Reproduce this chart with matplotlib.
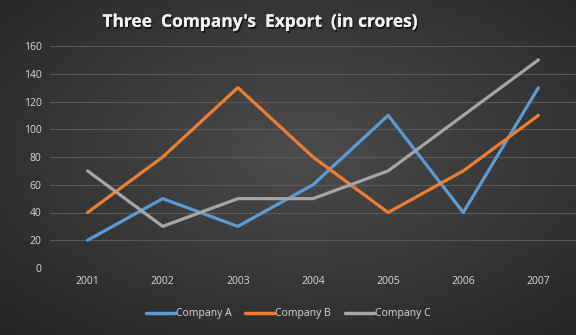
import numpy as np
import matplotlib
matplotlib.use("Agg")
import matplotlib.pyplot as plt
import matplotlib.patheffects as pe

years = ["2001", "2002", "2003", "2004", "2005", "2006", "2007"]
company_a = [20, 50, 30, 60, 110, 40, 130]
company_b = [40, 80, 130, 80, 40, 70, 110]
company_c = [70, 30, 50, 50, 70, 110, 150]
series_names = ["Company A", "Company B", "Company C"]
colors = ["#5B9BD5", "#ED7D31", "#A5A5A5"]
y_ticks = [0, 20, 40, 60, 80, 100, 120, 140, 160]

plt.rcParams['font.family'] = ['Open Sans', 'DejaVu Sans']

fig = plt.figure(figsize=(5.76, 3.35), dpi=100)

# radial gradient background
bg = fig.add_axes([0, 0, 1, 1], zorder=-10)
yy, xx = np.mgrid[0:335, 0:576]
cx, cy = 300, 150
r = np.sqrt(((xx - cx) / 576.0) ** 2 + ((yy - cy) / 335.0) ** 2)
r = r / r.max()
inner = np.array([0x4c, 0x4c, 0x4c]) / 255.0
outer = np.array([0x24, 0x24, 0x24]) / 255.0
img = inner[None, None, :] * (1 - r[..., None]) + outer[None, None, :] * r[..., None]
bg.imshow(img, aspect='auto', extent=[0, 1, 0, 1], origin='upper')
bg.axis('off')

ax = fig.add_axes([50 / 576, 67 / 335, 526 / 576, 222 / 335])
ax.set_facecolor('none')
x = np.arange(len(years))
for vals, name, c in zip([company_a, company_b, company_c], series_names, colors):
    ax.plot(x, vals, color=c, lw=2.3, solid_capstyle='round', solid_joinstyle='round', label=name)

ax.set_xlim(-0.5, len(years) - 0.5)
ax.set_ylim(0, 160)
ax.set_yticks(y_ticks)
ax.set_xticks(x)
ax.set_xticklabels(years)
ax.grid(axis='y', color='#5a5a5a', lw=0.8)
ax.set_axisbelow(True)
for s in ax.spines.values():
    s.set_visible(False)
ax.tick_params(length=0, colors='#D9D9D9', labelsize=7.5, pad=6)

fig.text(260 / 576, 0.935, "Three  Company's  Export  (in crores)", ha='center', va='center',
         color='#F2F2F2', fontsize=12.5, fontweight='bold',
         path_effects=[pe.withSimplePatchShadow(offset=(1, -1.5), shadow_rgbFace='black', alpha=0.6), pe.Normal()])

leg = fig.legend(loc='center', bbox_to_anchor=(0.5, 0.063), ncol=3, frameon=False,
                 fontsize=7.5, labelcolor='#D9D9D9', handlelength=2.8, handletextpad=0.1,
                 columnspacing=1.3)
for h in leg.get_lines():
    h.set_linewidth(2.5)

fig.savefig("out.png", dpi=100)
